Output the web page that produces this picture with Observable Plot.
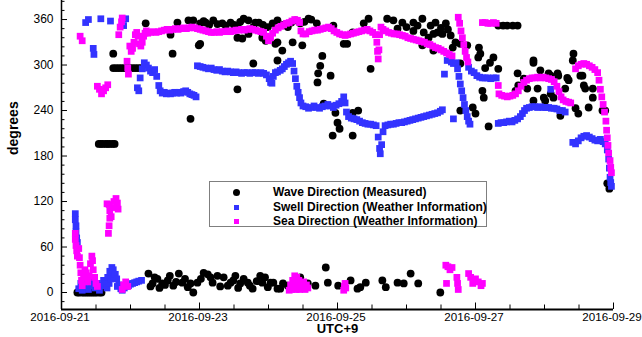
<!DOCTYPE html>
<html><head><meta charset="utf-8">
<script src="https://cdn.jsdelivr.net/npm/d3@7"></script>
<script src="https://cdn.jsdelivr.net/npm/@observablehq/plot@0.6"></script>
<style>
body{margin:0;background:#fff;}
#wrap{position:relative;width:642px;height:337px;font-family:"Liberation Sans",Arial,sans-serif;}
#legend{position:absolute;left:209px;top:181px;width:276px;height:44px;border:1px solid #7f7f7f;background:#fff;font-weight:bold;font-size:12px;color:#000;}
.row{position:absolute;left:0;width:100%;height:14px;}
.row .t{position:absolute;left:63px;top:0;line-height:14px;white-space:nowrap;}
.row .m{position:absolute;}
</style></head><body><div id="wrap"><div id="legend"></div></div>
<script>
// ---------- data (day offset from 2016-09-21 00:00, UTC+9) ----------
const seriesNames = ["Wave Direction (Measured)", "Swell Direction (Weather Information)", "Sea Direction (Weather Information)"];
const seriesColors = ["#000000", "#3333ff", "#ff00ff"];
const xTickLabels = ["2016-09-21", "2016-09-23", "2016-09-25", "2016-09-27", "2016-09-29"];
const yTickLabels = [0, 60, 120, 180, 240, 300, 360];
const axisTitles = ["UTC+9", "degrees"];

const waveData = [
[0.23,0],[0.26,0],[0.30,0],[0.33,0],[0.36,0],[0.39,0],[0.42,0],[0.45,0],[0.48,0],[0.51,0],[0.55,0],[0.58,0],
[0.54,196],[0.57,196],[0.60,196],[0.64,196],[0.67,196],[0.70,196],[0.74,196],[0.77,196],
[0.75,296],[0.79,296],[0.83,296],[0.87,296],[0.91,296],[0.95,296],[0.99,296],[1.03,296],[1.07,296],[1.11,296],[1.15,296],
[0.75,315],[1.22,355],[1.58,340],[1.61,315],[1.68,356],[1.84,359],[1.91,359],[1.87,229],[1.99,326],
[1.26,25],[1.29,8],[1.32,12],[1.35,20],[1.39,18],[1.42,6],[1.46,12],[1.50,10],[1.54,16],[1.57,22],[1.62,9],[1.66,14],[1.70,25],[1.75,13],[1.79,18],[1.83,7],[1.87,12],[1.91,0],[1.97,13],[2.02,18],[2.06,26],[2.12,24],[2.16,20],[2.19,13],[2.26,22],[2.30,8],[2.35,20],[2.41,9],[2.45,13],[2.49,16],[2.52,22],[2.56,6],[2.59,12],[2.64,18],[2.70,13],[2.73,9],[2.77,5],[2.83,15],[2.88,22],[2.91,13],[2.95,20],[2.99,7],[3.03,13],[3.07,13],[3.13,5],[3.17,5],[3.21,12],[3.28,9],[3.43,18],[3.46,20],[3.57,12],[3.68,9],[3.83,33],[3.86,13],[4.01,9],[4.19,16],[4.29,5],[4.33,7],[4.41,13],[4.65,16],[4.70,7],[4.87,13],[4.96,12],[5.06,25],[5.17,12],[5.49,0],
[2.01,355],[2.06,358],[2.09,356],[2.14,353],[2.20,359],[2.26,354],[2.33,355],[2.38,352],[2.45,356],[2.50,353],[2.55,352],[2.59,357],[2.64,361],[2.71,359],[2.78,350],[2.81,356],[2.86,356],[2.92,353],[2.99,350],[3.06,355],[3.13,359],[3.20,353],[3.28,350],[3.33,356],[3.39,359],[3.46,355],[3.52,357],[3.58,361],[3.62,360],[3.70,355],
[2.01,328],[2.55,336],[2.62,335],[2.71,341],[2.91,336],[2.96,332],[3.10,328],[3.13,330],[3.20,319],[3.35,330],[3.49,326],
[2.78,302],[3.13,306],[2.55,268],[3.78,312],[3.75,299],[3.72,289],[3.71,277],[3.90,286],[3.80,249],[3.93,207],[3.97,237],[4.00,224],[4.03,216],[4.22,207],[4.22,237],[4.30,240],[4.48,295],[4.14,328],[4.09,328],[4.22,343],[3.94,352],[4.38,355],[4.45,361],[4.72,361],[4.81,359],[4.87,348],[4.94,356],[5.00,350],[5.10,356],[5.10,345],[5.16,352],[5.23,361],[5.25,343],[5.32,336],[5.35,352],[5.39,341],[5.42,356],[5.45,343],[5.50,349],[5.52,341],[5.57,355],[5.60,347],[5.64,339],[5.71,330],[5.23,326],[5.39,319],[5.67,323],[5.78,328],[5.88,326],[5.78,302],[5.78,240],[5.96,244],[6.00,236],[6.19,219],
[6.05,323],[6.07,315],[6.04,310],[6.26,310],[6.21,303],[6.14,296],[6.33,295],[6.10,266],[6.12,257],
[6.33,352],[6.40,352],[6.46,352],[6.54,352],[6.61,352],
[6.61,289],[6.70,282],[6.84,303],[6.84,306],[6.94,293],[7.09,286],[7.19,289],[7.33,283],[7.42,315],[7.41,306],[6.62,273],[6.75,269],[6.90,269],[6.84,253],[6.99,257],[7.13,257],[7.23,233],[7.45,243],[7.49,236],[7.59,269],[7.70,257],[7.64,244],[7.84,240],[7.52,286],[7.55,286],[7.57,273],[7.70,269],[7.30,269],[7.35,280],[7.09,262],[7.01,253],[6.58,266],[7.06,289],[7.20,286],[7.88,240],
[7.91,144],[7.94,137]
];

const swellData = [
[0.20,104],[0.20,96],[0.21,88],[0.21,80],[0.22,72],[0.23,66],
[0.25,5],[0.28,12],[0.30,3],[0.33,8],[0.36,15],[0.39,4],[0.42,10],[0.45,18],[0.49,6],[0.52,12],[0.55,3],[0.58,9],[0.61,16],
[0.64,12],[0.66,6],[0.67,20],[0.69,12],[0.70,28],[0.72,18],[0.73,33],[0.75,30],[0.76,20],[0.78,24],[0.80,18],[0.81,8],[0.83,10],[0.86,5],
[0.88,3],[0.91,6],[0.94,8],[0.97,9],[1.00,11],[1.03,12],[1.06,13],[1.09,14],[1.12,15],[1.16,16],
[0.35,356],[0.39,360],[0.46,322],[0.47,314],[0.57,361],[0.71,358],[0.90,352],[0.93,361],
[1.10,270],[1.12,266],[1.14,283],[1.17,295],[1.20,303],[1.23,300],[1.26,296],[1.29,292],[1.32,290],[1.35,294],[1.38,285],
[1.41,273],[1.43,266],[1.46,263],[1.49,264],[1.52,262],[1.55,263],[1.58,262],[1.61,263],[1.64,264],[1.67,263],[1.70,264],[1.73,263],[1.77,265],[1.80,266],[1.83,264],[1.86,262],[1.89,261],[1.92,260],[1.95,258],
[1.97,299],[2.01,298],[2.05,297],[2.09,296],[2.13,295],[2.17,296],[2.21,294],[2.25,293],[2.29,294],[2.33,292],[2.37,291],[2.41,292],[2.45,291],[2.49,290],[2.53,291],[2.57,290],[2.61,289],[2.65,290],[2.69,290],[2.73,289],[2.77,290],[2.81,290],[2.85,289],[2.89,290],[2.93,289],[2.97,287],[3.01,282],[3.03,277],[3.05,276],[3.07,285],[3.10,290],[3.13,291],[3.17,293],[3.20,295],[3.23,298],[3.26,301],[3.29,303],[3.32,305],[3.35,302],[3.37,292],[3.39,282],[3.41,272],[3.43,264],[3.45,257],[3.47,250],[3.50,246],
[3.54,245],[3.58,243],[3.62,244],[3.66,246],[3.70,244],[3.74,243],[3.78,245],[3.82,246],[3.86,248],[3.90,246],[3.94,244],[3.98,247],[4.02,249],[4.06,252],[4.09,258],[4.11,250],[4.13,238],[4.16,232],[4.20,230],[4.24,229],[4.28,228],[4.32,226],[4.36,224],[4.40,223],[4.44,222],[4.48,222],[4.52,221],[4.56,220],[4.59,205],[4.61,190],[4.62,183],[4.64,195],[4.66,212],[4.69,220],[4.73,221],[4.77,222],[4.81,222],[4.85,223],[4.89,224],[4.93,224],[4.97,225],[5.01,226],[5.05,227],[5.09,228],[5.13,229],[5.17,230],[5.21,231],[5.25,232],[5.29,233],[5.33,234],[5.37,235],[5.41,236],[5.45,237],[5.49,239],[5.52,241],
[5.55,288],[5.59,306],[5.62,308],[5.65,304],[5.68,302],[5.68,229],
[5.72,303],[5.74,295],[5.76,285],[5.78,275],[5.80,266],[5.82,257],[5.84,248],[5.86,240],[5.88,232],[5.90,226],[5.92,222],
[5.90,297],[5.94,292],[5.98,290],[6.02,286],[6.06,284],[6.10,283],[6.14,283],[6.18,283],[6.22,282],[6.26,283],[6.30,283],
[6.33,223],[6.37,224],[6.41,224],[6.45,225],[6.49,226],[6.53,225],[6.57,227],[6.61,229],[6.65,232],[6.68,236],[6.71,240],[6.74,243],[6.78,244],[6.82,245],[6.86,245],[6.90,244],[6.94,245],[6.98,244],[7.02,244],[7.06,244],[7.10,243],[7.14,243],[7.18,242],[7.22,240],[7.26,240],[7.30,238],[7.09,268],
[7.41,198],[7.45,196],[7.49,200],[7.53,204],[7.57,206],[7.61,207],[7.65,205],[7.69,203],[7.73,201],[7.77,200],[7.81,202],[7.85,199],[7.88,196],[7.91,188],[7.93,176],[7.94,164],[7.95,152],[7.96,145],[7.97,140]
];

const seaData = [
[0.20,78],[0.20,70],[0.21,62],[0.22,55],[0.23,48],[0.25,58],[0.26,46],[0.27,36],[0.28,26],[0.29,16],[0.30,9],[0.32,20],[0.34,30],[0.36,26],[0.38,14],[0.40,22],[0.42,38],[0.44,48],[0.45,42],[0.46,30],[0.48,20],[0.50,12],[0.52,8],
[0.27,338],[0.30,332],
[0.52,272],[0.55,268],[0.58,262],[0.61,266],[0.64,270],[0.67,274],
[0.66,117],[0.69,116],[0.70,108],[0.70,98],[0.69,88],[0.68,78],[0.72,100],[0.74,112],[0.76,120],[0.79,124],[0.81,118],[0.82,110],
[0.88,4],[0.90,10],[0.93,14],[0.96,8],
[0.83,340],[0.85,350],[0.87,357],[0.88,362],
[0.95,305],[0.96,296],[0.97,288],
[0.99,325],[1.01,318],[1.03,322],[1.05,330],[1.07,340],[1.09,343],[1.11,338],[1.13,328],[1.15,325],[1.17,330],[1.19,338],[1.21,342],[1.23,345],
[1.25,342],[1.29,343],[1.33,344],[1.37,343],[1.41,344],[1.45,345],[1.49,346],[1.53,347],[1.57,346],[1.61,347],[1.65,348],[1.69,347],[1.73,348],[1.77,349],[1.81,348],[1.85,349],[1.89,350],[1.93,349],[1.97,348],[2.01,347],[2.05,346],[2.09,345],[2.13,344],[2.17,343],[2.21,343],[2.25,344],[2.29,343],[2.33,344],[2.37,344],[2.41,345],[2.45,344],[2.49,345],[2.53,346],[2.57,346],[2.61,347],[2.65,346],[2.69,347],[2.73,348],[2.77,347],[2.81,346],[2.85,345],[2.89,344],[2.93,343],[2.97,338],[3.00,332],[3.03,336],[3.06,342],
[3.10,346],[3.14,349],[3.18,351],[3.22,353],[3.26,355],[3.30,356],[3.34,358],[3.38,360],[3.42,359],[3.45,356],[3.47,345],[3.50,341],[3.54,341],[3.59,344],[3.63,345],[3.67,346],[3.71,346],[3.75,347],[3.79,348],[3.83,349],[3.87,350],[3.91,348],[3.95,345],[3.99,343],[4.03,341],[4.07,340],[4.11,339],[4.15,340],[4.19,341],[4.23,342],[4.27,343],[4.31,344],[4.35,345],[4.39,346],[4.43,347],[4.47,345],[4.51,343],[4.55,340],[4.57,330],[4.58,318],[4.59,308],[4.60,320],[4.61,340],[4.63,350],[4.66,347],[4.70,345],[4.74,343],[4.78,342],[4.82,341],[4.86,341],[4.90,340],[4.94,339],[4.98,338],[5.02,336],[5.06,335],[5.10,334],[5.14,333],[5.18,332],[5.22,331],[5.26,330],[5.30,328],[5.34,327],[5.38,325],[5.42,323],[5.46,322],[5.50,320],[5.54,318],[5.58,316],[5.62,314],[5.66,312],
[5.75,363],[5.77,355],[5.79,345],[5.81,336],[5.83,327],[5.85,318],[5.87,310],[5.89,304],
[6.10,356],[6.14,356],[6.18,355],[6.22,355],[6.26,356],[6.30,355],
[6.33,273],
[6.34,262],[6.38,260],[6.42,259],[6.46,258],[6.50,259],[6.54,260],[6.58,262],[6.62,266],[6.66,272],[6.70,277],[6.74,280],[6.78,282],[6.82,283],[6.86,283],[6.90,284],[6.94,283],[6.98,284],[7.02,283],[7.06,282],[7.10,281],[7.14,278],[7.18,272],[7.21,265],[7.24,258],[7.27,254],[7.31,252],[7.35,251],[7.38,250],
[7.45,295],[7.49,299],[7.53,301],[7.57,302],[7.61,301],[7.65,299],[7.69,297],[7.73,294],[7.77,290],[7.79,280],[7.81,268],[7.83,258],[7.85,248],[7.87,238],[7.89,226],[7.90,214],[7.91,204],[7.92,194],[7.93,184],[7.95,174],[7.96,165],[7.97,158],
[3.30,3],[3.32,10],[3.34,4],[3.35,16],[3.37,8],[3.38,22],[3.39,14],[3.40,4],[3.41,20],[3.42,10],[3.44,16],[3.45,4],[3.47,12],[3.49,8],[3.51,14],[3.53,4],[3.55,10],[3.57,6],
[4.09,3],[4.10,8],[4.11,12],[4.12,6],
[5.57,36],[5.60,34],[5.63,30],[5.66,33],[5.58,12],[5.73,20],[5.74,12],[5.75,4],[5.90,25],[5.93,20],[5.96,12],[6.00,18],[6.04,14],[6.08,9],[6.10,12]
];

// ---------- build ----------
const parse = d3.utcParse("%Y-%m-%d");
const t0 = parse(xTickLabels[0]);
const t1 = parse(xTickLabels[xTickLabels.length - 1]);
const toPts = arr => arr.map(([d, v]) => ({t: new Date(+t0 + d * 864e5), v}));
const wave = toPts(waveData), swell = toPts(swellData), sea = toPts(seaData);

const W = 642, H = 337, mL = 61, mR = 29, mT = 0, mB = 28;
const frameW = W - mL - mR, frameH = H - mT - mB;
const yDom = [-22.4, 385.1];
const xMajor = xTickLabels.map(parse);
const xMinor = d3.utcHour.every(12).range(t0, +t1 + 1).filter(d => !xMajor.some(m => +m === +d));
const yMinor = d3.range(-12, 385, 12).filter(v => !yTickLabels.includes(v));

const chart = Plot.plot({
  width: W, height: H,
  marginLeft: mL, marginRight: mR, marginTop: mT, marginBottom: mB,
  style: {fontFamily: '"Liberation Sans", Arial, sans-serif', fontSize: "12px", color: "#000", background: "#fff", overflow: "visible"},
  x: {type: "utc", domain: [t0, t1]},
  y: {domain: yDom},
  marks: [
    Plot.dot(wave, {x: "t", y: "v", r: 3.9, fill: seriesColors[0]}),
    Plot.dot(swell, {x: "t", y: "v", r: 3.8, symbol: "square", fill: seriesColors[1]}),
    Plot.dot(sea, {x: "t", y: "v", r: 3.8, symbol: "square", fill: seriesColors[2]}),
    // axis lines
    Plot.ruleX([t0], {stroke: "#000", strokeWidth: 1.5}),
    Plot.ruleY([yDom[0]], {stroke: "#000", strokeWidth: 2}),
    // inward ticks
    Plot.ruleX(xMajor, {stroke: "#000", insetTop: frameH - 6.5}),
    Plot.ruleX(xMinor, {stroke: "#000", insetTop: frameH - 4.5}),
    Plot.ruleY(yTickLabels, {stroke: "#000", insetRight: frameW - 6}),
    Plot.ruleY(yMinor, {stroke: "#000", insetRight: frameW - 3.5}),
    // tick labels
    Plot.axisX({ticks: xMajor, tickFormat: d3.utcFormat("%Y-%m-%d"), tickSize: 0, tickPadding: 3, dx: -1.5, fontSize: 11.6, label: null}),
    Plot.axisY({ticks: yTickLabels, tickSize: 0, tickPadding: 8, label: null}),
    // axis titles
    Plot.text([axisTitles[0]], {text: d => d, frameAnchor: "bottom", dy: 23.5, fontWeight: "bold", fontSize: 13}),
    Plot.text([axisTitles[1]], {text: d => d, frameAnchor: "left", dx: -48, rotate: -90, fontWeight: "bold", fontSize: 14})
  ]
});
document.getElementById("wrap").prepend(chart);

// legend
const legend = document.getElementById("legend");
const rowTops = [3, 18, 32];
seriesNames.forEach((name, i) => {
  const row = document.createElement("div");
  row.className = "row";
  row.style.top = rowTops[i] + "px";
  const m = document.createElement("div");
  m.className = "m";
  if (i === 0) {
    Object.assign(m.style, {left: "23px", top: "3.5px", width: "7px", height: "7px", borderRadius: "50%", background: seriesColors[i]});
  } else {
    Object.assign(m.style, {left: "24px", top: "4.5px", width: "5px", height: "5px", background: seriesColors[i]});
  }
  const t = document.createElement("span");
  t.className = "t";
  t.textContent = name;
  row.appendChild(m); row.appendChild(t);
  legend.appendChild(row);
});
</script>
</body></html>
